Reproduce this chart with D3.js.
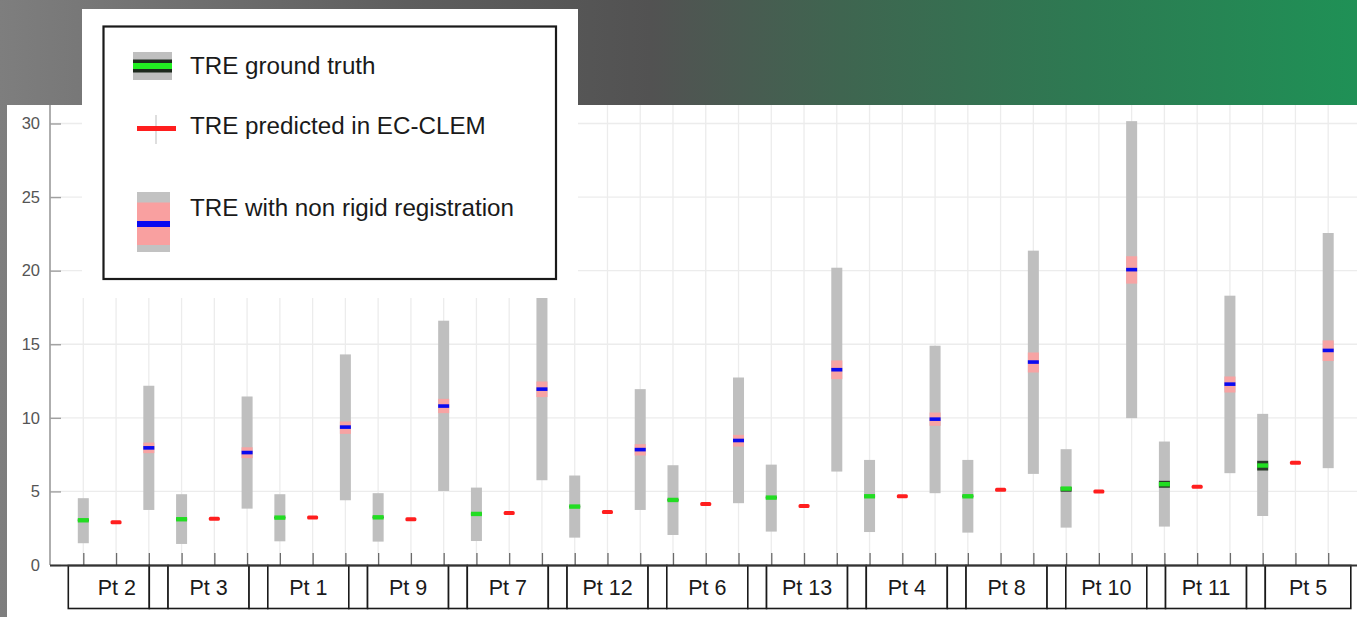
<!DOCTYPE html>
<html>
<head>
<meta charset="utf-8">
<script src="https://cdn.jsdelivr.net/npm/d3@7"></script>
<style>
  html, body { margin: 0; padding: 0; overflow: hidden; }
  svg { display: block; font-family: "Liberation Sans", Arial, sans-serif; }
</style>
</head>
<body>
<svg id="chart" width="1357" height="617"></svg>
<script>
// ---------------- data ----------------
const patients = ["Pt 2","Pt 3","Pt 1","Pt 9","Pt 7","Pt 12","Pt 6","Pt 13","Pt 4","Pt 8","Pt 10","Pt 11","Pt 5"];
// TRE ground truth (boxplot: whiskers, IQR, median)
const gtMin = [1.48,1.43,1.61,1.59,1.63,1.86,2.04,2.27,2.24,2.20,2.54,2.61,3.33];
const gtQ1  = [2.98,3.05,3.16,3.18,3.41,3.91,4.36,4.52,4.61,4.61,4.98,5.25,6.42];
const gtMed = [3.04,3.11,3.22,3.24,3.47,3.97,4.42,4.58,4.67,4.67,5.19,5.49,6.76];
const gtQ3  = [3.10,3.17,3.28,3.30,3.53,4.03,4.48,4.64,4.73,4.73,5.30,5.72,7.08];
const gtMax = [4.54,4.81,4.81,4.88,5.26,6.08,6.78,6.82,7.14,7.14,7.87,8.39,10.27];
// TRE predicted in EC-CLEM
const pred  = [2.90,3.15,3.22,3.11,3.54,3.60,4.15,4.01,4.67,5.12,4.99,5.31,6.94];
// TRE with non rigid registration
const nrMin = [3.74,3.83,4.40,5.03,5.76,3.74,4.20,6.35,4.88,6.19,9.98,6.24,6.58];
const nrQ1  = [7.60,7.26,8.91,10.32,11.41,7.44,8.05,12.63,9.46,13.08,19.12,11.72,13.86];
const nrMed = [7.96,7.64,9.37,10.80,11.95,7.84,8.46,13.27,9.91,13.79,20.07,12.29,14.58];
const nrQ3  = [8.32,8.00,9.75,11.29,12.47,8.21,8.84,13.90,10.36,14.44,20.98,12.81,15.26];
const nrMax = [12.18,11.45,14.31,16.60,19.20,11.95,12.74,20.20,14.90,21.36,30.16,18.30,22.56];
const yTicks = [0,5,10,15,20,25,30];
const legendLabels = ["TRE ground truth","TRE predicted in EC-CLEM","TRE with non rigid registration"];

// ---------------- setup ----------------
const svg = d3.select("#chart");
const W = 1357, H = 617;

const defs = svg.append("defs");
const grad = defs.append("linearGradient").attr("id","bg").attr("x1","0").attr("x2","1").attr("y1","0").attr("y2","0");
[["0%","#7e7e7e"],["30%","#5e5e5e"],["48%","#525252"],["62%","#3f6550"],["80%","#2d7a52"],["100%","#1f9156"]]
  .forEach(([o,c]) => grad.append("stop").attr("offset",o).attr("stop-color",c));
svg.append("rect").attr("width",W).attr("height",H).attr("fill","url(#bg)");

// plot white panel
svg.append("rect").attr("x",7).attr("y",105).attr("width",W-7).attr("height",H-105).attr("fill","#ffffff");

// slots: 3 per patient
const slots = [];
patients.forEach((p,i) => ["gt","pred","nr"].forEach(k => slots.push(p+"|"+k)));
const x = d3.scalePoint().domain(slots).range([83.3, 1328.2]);
const y = d3.scaleLinear().domain([0,30]).range([565, 123.5]);

// grid
const grid = svg.append("g");
grid.selectAll("line.v").data(slots).join("line")
  .attr("x1",d=>x(d)).attr("x2",d=>x(d)).attr("y1",105).attr("y2",565)
  .attr("stroke","#ececec").attr("stroke-width",1.3);
grid.selectAll("line.h").data(yTicks.filter(t=>t>0)).join("line")
  .attr("x1",50).attr("x2",W).attr("y1",d=>y(d)).attr("y2",d=>y(d))
  .attr("stroke","#ececec").attr("stroke-width",1.3);

// y axis
const yAxis = d3.axisRight(y).tickValues(yTicks).tickSize(11).tickFormat(d3.format("d"));
const yg = svg.append("g").attr("transform","translate(50,0)").call(yAxis);
yg.select(".domain").attr("stroke","#9a9a9a").attr("stroke-width",1.6).attr("d","M0,105V565");
yg.selectAll(".tick line").attr("stroke","#a0a0a0").attr("stroke-width",1.4);
yg.selectAll(".tick text").attr("x",-10).attr("text-anchor","end")
  .attr("fill","#555").attr("font-size",16.5);

// x axis
const xAxis = d3.axisTop(x).tickSize(12).tickFormat("");
const xg = svg.append("g").attr("transform","translate(0,565)").call(xAxis);
xg.select(".domain").remove();
xg.selectAll(".tick line").attr("stroke","#6a6a6a").attr("stroke-width",1.3);

// ---------------- marks ----------------
const bw = 11;
const idx = d3.range(patients.length);
const marks = svg.append("g");

// ground truth
const gtG = marks.append("g");
gtG.selectAll("rect.w").data(idx).join("rect")
  .attr("x",i=>x(patients[i]+"|gt")-bw/2).attr("width",bw)
  .attr("y",i=>y(gtMax[i])).attr("height",i=>y(gtMin[i])-y(gtMax[i]))
  .attr("fill","#bfbfbf");
gtG.selectAll("rect.q").data(idx).join("rect")
  .attr("x",i=>x(patients[i]+"|gt")-bw/2).attr("width",bw)
  .attr("y",i=>y(gtQ3[i])).attr("height",i=>y(gtQ1[i])-y(gtQ3[i]))
  .attr("fill","#2a3a2a");
gtG.selectAll("rect.m").data(idx).join("rect")
  .attr("x",i=>x(patients[i]+"|gt")-bw/2).attr("width",bw)
  .attr("y",i=>y(gtMed[i])-2.2).attr("height",4.4)
  .attr("fill","#22dd22");

// predicted
marks.append("g").selectAll("rect").data(idx).join("rect")
  .attr("x",i=>x(patients[i]+"|pred")-bw/2).attr("width",bw)
  .attr("y",i=>y(pred[i])-2).attr("height",4).attr("rx",1.5)
  .attr("fill","#ff1e1e");

// non rigid
const nrG = marks.append("g");
nrG.selectAll("rect.w").data(idx).join("rect")
  .attr("x",i=>x(patients[i]+"|nr")-bw/2).attr("width",bw)
  .attr("y",i=>y(nrMax[i])).attr("height",i=>y(nrMin[i])-y(nrMax[i]))
  .attr("fill","#bfbfbf");
nrG.selectAll("rect.q").data(idx).join("rect")
  .attr("x",i=>x(patients[i]+"|nr")-bw/2).attr("width",bw)
  .attr("y",i=>y(nrQ3[i])).attr("height",i=>y(nrQ1[i])-y(nrQ3[i]))
  .attr("fill","#f7a3a3");
nrG.selectAll("rect.m").data(idx).join("rect")
  .attr("x",i=>x(patients[i]+"|nr")-bw/2).attr("width",bw)
  .attr("y",i=>y(nrMed[i])-1.8).attr("height",3.6)
  .attr("fill","#0a0af0");

// ---------------- label table ----------------
const tbl = d3.scaleLinear().domain([0, patients.length - 1]).range([68.3, 1265.3]);
const tg = svg.append("g");
const ty0 = 565.5, ty1 = 608.5;
patients.forEach((p,i) => {
  const lx = tbl(i);
  const lw = i === patients.length - 1 ? 85.5 : 81;
  tg.append("rect").attr("x",lx).attr("y",ty0).attr("width",lw).attr("height",ty1-ty0)
    .attr("fill","#fff").attr("stroke","#1a1a1a").attr("stroke-width",1.6);
  if (i < patients.length - 1) {
    tg.append("rect").attr("x",lx+lw).attr("y",ty0).attr("width",tbl(i+1)-lx-lw).attr("height",ty1-ty0)
      .attr("fill","#fff").attr("stroke","#1a1a1a").attr("stroke-width",1.6);
  }
  tg.append("text").attr("x",lx+lw/2 + (i===0?8:0)).attr("y",595).attr("text-anchor","middle")
    .attr("font-size",21.5).attr("fill","#1a1a1a").text(p);
});
svg.append("line").attr("x1",50).attr("x2",W).attr("y1",565.5).attr("y2",565.5)
  .attr("stroke","#333").attr("stroke-width",2);

// ---------------- legend ----------------
const lg = svg.append("g");
lg.append("rect").attr("x",82).attr("y",9).attr("width",496).attr("height",289).attr("fill","#fff");
lg.append("rect").attr("x",103.5).attr("y",26.5).attr("width",452.5).attr("height",252.5)
  .attr("fill","none").attr("stroke","#1a1a1a").attr("stroke-width",2.2);
// icon 1
lg.append("rect").attr("x",133).attr("y",52).attr("width",39).attr("height",28).attr("fill","#bfbfbf");
lg.append("rect").attr("x",133).attr("y",59.5).attr("width",39).attr("height",13).attr("fill","#1e2a1e");
lg.append("rect").attr("x",133).attr("y",63).attr("width",39).attr("height",6).attr("fill","#22ee22");
// icon 2
lg.append("line").attr("x1",156).attr("x2",156).attr("y1",115).attr("y2",144).attr("stroke","#c8c8c8").attr("stroke-width",1.2);
lg.append("rect").attr("x",137).attr("y",126).attr("width",39).attr("height",5).attr("fill","#ff1e1e");
// icon 3
lg.append("rect").attr("x",137).attr("y",192).attr("width",33).attr("height",60).attr("fill","#c2c2c2");
lg.append("rect").attr("x",137).attr("y",202.5).attr("width",33).attr("height",42.5).attr("fill","#f9a0a0");
lg.append("rect").attr("x",137).attr("y",221).attr("width",33).attr("height",6).attr("fill","#0a0af0");
// texts
[[74,0],[134,1],[216,2]].forEach(([yy,k]) => {
  lg.append("text").attr("x",190).attr("y",yy).attr("font-size",24.2).attr("fill","#1a1a1a")
    .text(legendLabels[k]);
});
</script>
</body>
</html>
